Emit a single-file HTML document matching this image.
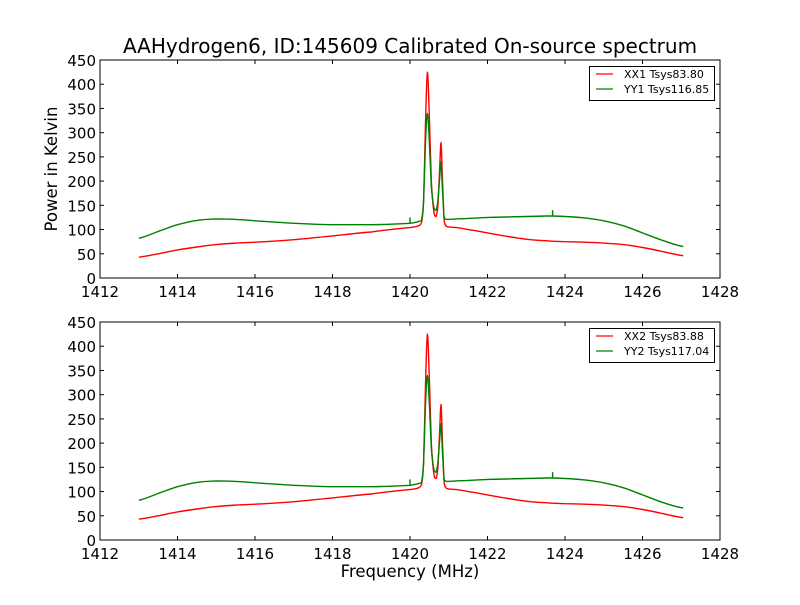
<!DOCTYPE html>
<html><head><meta charset="utf-8"><style>
body{margin:0;background:#fff}
svg text{font-family:"DejaVu Sans","Liberation Sans",sans-serif;fill:#000}
</style></head><body>
<svg id="c" width="800" height="600" xmlns="http://www.w3.org/2000/svg">
<rect width="800" height="600" fill="#fff"/>
<text x="410" y="53" font-size="20" text-anchor="middle">AAHydrogen6, ID:145609 Calibrated On-source spectrum</text>
<text x="57" y="169" font-size="16.5" text-anchor="middle" transform="rotate(-90 57 169)">Power in Kelvin</text>
<text x="410" y="577" font-size="16.5" text-anchor="middle">Frequency (MHz)</text>
</svg>
<script>
const freqs=[1413,1413.5,1414,1414.5,1415,1415.5,1416,1417,1418,1419,1419.5,1420,1420.2,1420.3,1420.35,1420.4,1420.45,1420.5,1420.55,1420.62,1420.67,1420.72,1420.77,1420.8,1420.84,1420.88,1420.95,1421.2,1421.5,1422,1422.5,1423,1423.5,1423.68,1424,1424.5,1425,1425.5,1426,1426.5,1427.05];
const xx1=[43,50,58,64,69,72,74,79,87,95,100,104,107,115,160,320,425,330,200,135,127,150,230,280,200,120,106,104,100,93,86,80,77,76,75,74,72,69,63,55,46];
const yy1=[82,96,110,119,122,121,118,113,110,110,111,113,116,120,160,280,340,280,190,145,140,160,210,240,180,125,121,122,123,125,126,127,128,128,127,124,118,108,93,78,65];
const xx2=[43,50,58,64,69,72,74,79,87,95,100,104,107,115,160,320,425,330,200,135,127,150,230,280,200,120,106,104,100,93,86,80,77,76,75,74,72,69,63,55,46];
const yy2=[82,96,110,119,122,121,118,113,110,110,111,113,116,120,160,280,340,280,190,145,140,160,210,240,180,125,121,122,123,125,126,127,128,128,127,124,118,108,93,78,66];
const spikes=[[1420.0,125],[1423.68,140]];
const xTicks=[1412,1414,1416,1418,1420,1422,1424,1426,1428];
const yTicks=[0,50,100,150,200,250,300,350,400,450];
const legends=[["XX1 Tsys83.80","YY1 Tsys116.85"],["XX2 Tsys83.88","YY2 Tsys117.04"]];
const svg=document.getElementById('c');
const NS='http://www.w3.org/2000/svg';
function mk(t,a){const e=document.createElementNS(NS,t);for(const k in a)e.setAttribute(k,a[k]);svg.appendChild(e);return e;}
function smooth(pts){
 let d='M'+pts[0][0].toFixed(1)+','+pts[0][1].toFixed(1);
 for(let i=0;i<pts.length-1;i++){
  const p0=pts[Math.max(0,i-1)],p1=pts[i],p2=pts[i+1],p3=pts[Math.min(pts.length-1,i+2)];
  const lo=Math.min(p1[1],p2[1]),hi=Math.max(p1[1],p2[1]);
  let c1y=p1[1]+(p2[1]-p0[1])/6, c2y=p2[1]-(p3[1]-p1[1])/6;
  c1y=Math.min(hi,Math.max(lo,c1y)); c2y=Math.min(hi,Math.max(lo,c2y));
  const c1x=p1[0]+(p2[0]-p1[0])/3, c2x=p2[0]-(p2[0]-p1[0])/3;
  d+='C'+c1x.toFixed(1)+','+c1y.toFixed(1)+' '+c2x.toFixed(1)+','+c2y.toFixed(1)+' '+p2[0].toFixed(1)+','+p2[1].toFixed(1);
 }
 return d;
}
const panels=[{top:60,r:xx1,g:yy1},{top:322,r:xx2,g:yy2}];
panels.forEach((p,pi)=>{
 const L=100,R=720,T=p.top,B=p.top+218;
 const sx=f=>L+(f-1412)/16*(R-L), sy=v=>B-v/450*(B-T);
 function path(vals,color,name,withSpikes){
  const pts=freqs.map((f,i)=>[sx(f),sy(vals[i])]);
  const e=mk('path',{d:smooth(pts),fill:'none',stroke:color,'stroke-width':1.4});
  
  
  if(withSpikes){spikes.forEach(s=>{
   const idx=freqs.findIndex(f=>f>=s[0]);
   const base=vals[idx];
   const sp=mk('line',{x1:sx(s[0]),x2:sx(s[0]),y1:sy(base),y2:sy(s[1]),stroke:color,'stroke-width':1.4});
   
   
  });}
 }
 path(p.r,'#ff0000','xx-series-'+(pi+1),false);
 path(p.g,'#008000','yy-series-'+(pi+1),true);
 const fr=mk('rect',{x:L,y:T,width:R-L,height:B-T,fill:'none',stroke:'#000','stroke-width':1});
 
 
 xTicks.forEach(t=>{
  const x=sx(t);
  mk('line',{x1:x,x2:x,y1:B,y2:B-4,stroke:'#000'});
  mk('line',{x1:x,x2:x,y1:T,y2:T+4,stroke:'#000'});
  const tx=mk('text',{x:x,y:B+19,'font-size':15,'text-anchor':'middle'});tx.textContent=t;
  
  
 });
 yTicks.forEach(t=>{
  const y=sy(t);
  mk('line',{x1:L,x2:L+4,y1:y,y2:y,stroke:'#000'});
  mk('line',{x1:R,x2:R-4,y1:y,y2:y,stroke:'#000'});
  const tx=mk('text',{x:L-4,y:y+6,'font-size':15,'text-anchor':'end'});tx.textContent=t;
  
  
 });
 const lg=mk('rect',{x:589.5,y:T+6.5,width:125,height:34,fill:'#fff',stroke:'#000','stroke-width':1});
 
 
 [['#ff0000',legends[pi][0]],['#008000',legends[pi][1]]].forEach((e,i)=>{
  const y=T+14+i*15;
  mk('line',{x1:596,x2:613,y1:y,y2:y,stroke:e[0],'stroke-width':1.3});
  const tx=mk('text',{x:624,y:y+4,'font-size':11});tx.textContent=e[1];
  
  
 });
});
</script>
</body></html>
